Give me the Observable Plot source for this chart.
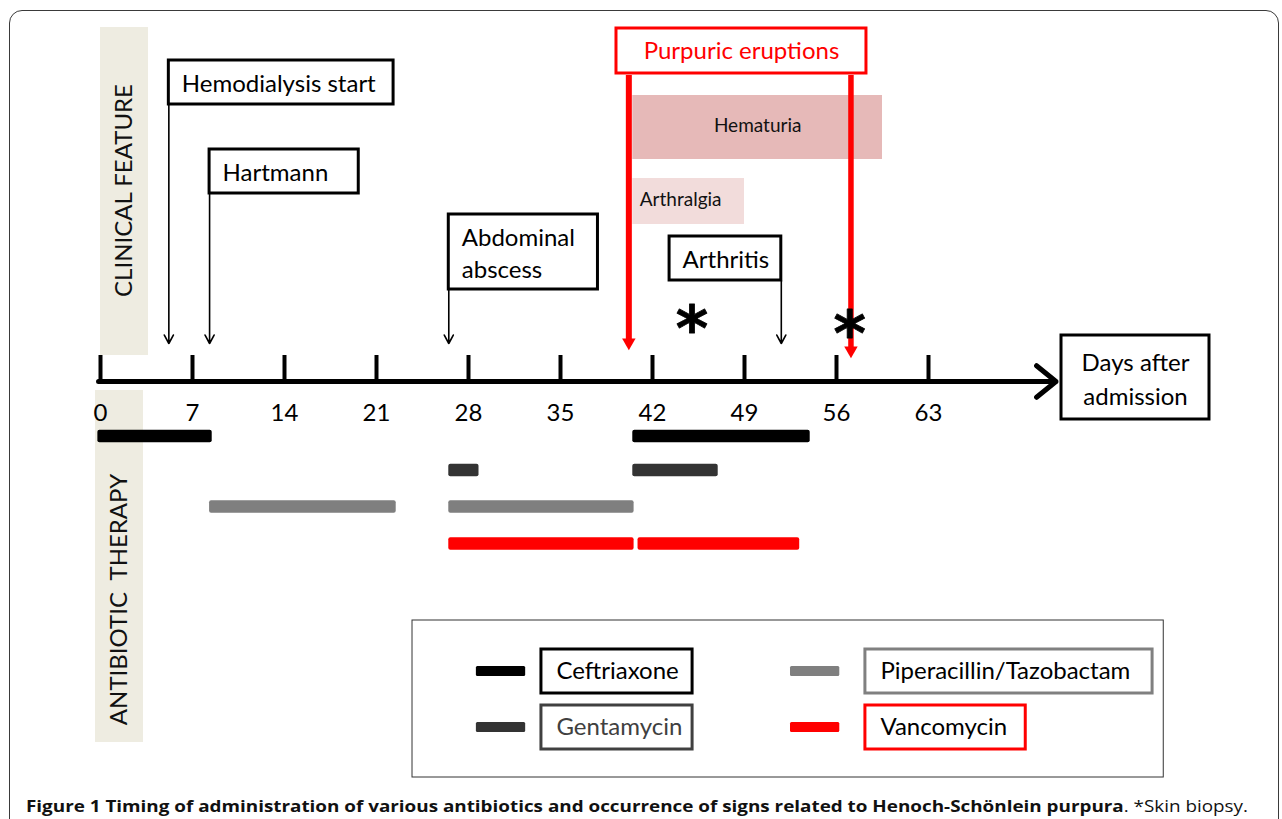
<!DOCTYPE html>
<html>
<head>
<meta charset="utf-8">
<script src="https://cdn.jsdelivr.net/npm/d3@7"></script>
<script src="https://cdn.jsdelivr.net/npm/@observablehq/plot@0.6"></script>
<style>
  html, body { margin: 0; padding: 0; background: #fff; overflow: hidden; }
  #wrap { position: relative; width: 1282px; height: 819px; }
  #frame { position: absolute; left: 9px; top: 10px; width: 1268px; height: 860px;
           border: 1.5px solid #3a3a3a; border-radius: 13px; pointer-events: none; }
  #chart { position: absolute; left: 0; top: 0; }
  #caption { position: absolute; left: 26px; top: 794px; white-space: nowrap;
             font-family: "Open Sans", sans-serif; font-size: 16.5px; color: #111;
             transform-origin: 0 50%; }
  #caption b { font-weight: 700; }
</style>
</head>
<body>
<div id="wrap">
  <div id="chart"></div>
  <div id="frame"></div>
  <div id="caption"><b>Figure 1 Timing of administration of various antibiotics and occurrence of signs related to Henoch-Schönlein purpura</b>. *Skin biopsy.</div>
</div>
<script>
// ---------------- DATA ----------------
const dayTicks = [0, 7, 14, 21, 28, 35, 42, 49, 56, 63];
const axisTitle = "Days after\nadmission";

const drugs = ["Ceftriaxone", "Gentamycin", "Piperacillin/Tazobactam", "Vancomycin"];
const drugColors = ["#000000", "#333333", "#7f7f7f", "#ff0000"];

const courseDrug  = ["Ceftriaxone", "Ceftriaxone", "Gentamycin", "Gentamycin",
                     "Piperacillin/Tazobactam", "Piperacillin/Tazobactam", "Vancomycin", "Vancomycin"];
const courseStart = [-0.2, 40.5, 26.5, 40.5, 8.3, 26.5, 26.5, 40.9];
const courseEnd   = [8.5, 54.0, 28.8, 47.0, 22.5, 40.6, 40.6, 53.2];

const eventLabels = ["Hemodialysis start", "Hartmann", "Abdominal\nabscess", "Arthritis"];
const eventDays   = [5.2, 8.3, 26.5, 51.8];

const purpuraLabel = "Purpuric eruptions";
const purpuraDays  = [40.2, 57.1];

const episodeLabels = ["Hematuria", "Arthralgia"];
const episodeStart  = [40.5, 40.5];
const episodeEnd    = [59.5, 49.0];

const biopsyDays = [45.0, 57.0];

const sideLabels = ["CLINICAL FEATURE", "ANTIBIOTIC  THERAPY"];

// ---------------- LAYOUT (y levels are in layout units, x in days) ----------------
const L = {
  axisY: 381, tickTop: 355, tickLabelY: 413, axisStart: -0.15, axisEnd: 72.7,
  arrowTipY: 343,
  band: [{x1: 0, x2: 3.65, y1: 27, y2: 355}, {x1: -0.38, x2: 3.27, y1: 390, y2: 742}],
  sideText: [{x: 1.83, y: 190}, {x: 1.45, y: 599}],
  events: [
    {top: 60, bottom: 104, width: 17.1, anchor: "left"},
    {top: 149, bottom: 193, width: 11.35, anchor: "left"},
    {top: 214, bottom: 289, width: 11.35, anchor: "left"},
    {top: 236, bottom: 280, width: 8.5, anchor: "right"}
  ],
  purpura: {x1: 39.26, x2: 58.28, top: 28, bottom: 73, lineTop: 75, tips: [347, 355]},
  episodes: [{top: 95, bottom: 159}, {top: 178, bottom: 224}],
  biopsyY: [318, 323],
  daysBox: {x1: 73.12, x2: 84.38, top: 335, bottom: 419},
  rows: {"Ceftriaxone": 436, "Gentamycin": 470, "Piperacillin/Tazobactam": 506.5, "Vancomycin": 543.5},
  barHalf: 6.3,
  legend: {x1: 23.74, x2: 80.9, y1: 620, y2: 777,
           items: [
             {sx1: 28.6, sx2: 32.35, y: 671, bx1: 33.55, bx2: 45.05},
             {sx1: 28.6, sx2: 32.35, y: 727, bx1: 33.55, bx2: 45.05},
             {sx1: 52.5, sx2: 56.25, y: 671, bx1: 58.2, bx2: 80.05},
             {sx1: 52.5, sx2: 56.25, y: 727, bx1: 58.2, bx2: 70.4}
           ]}
};

const k = 828 / 63; // pixels per day
const W = 1282, H = 790;
const font = "Lato, sans-serif";

// ---------------- DERIVED TABLES ----------------
const courses = courseDrug.map((d, i) => ({drug: d, start: courseStart[i], end: courseEnd[i],
  color: drugColors[drugs.indexOf(d)]}));
const events = eventLabels.map((t, i) => {
  const lay = L.events[i];
  const x1 = lay.anchor === "left" ? eventDays[i] : eventDays[i] - lay.width;
  return {label: t, day: eventDays[i], x1, x2: x1 + lay.width, top: lay.top, bottom: lay.bottom};
});
const episodes = episodeLabels.map((t, i) => ({label: t, start: episodeStart[i], end: episodeEnd[i],
  top: L.episodes[i].top, bottom: L.episodes[i].bottom}));
const purpura = purpuraDays.map((d, i) => ({day: d, tip: L.purpura.tips[i], w: i === 0 ? 6 : 5.5}));
const biopsies = biopsyDays.map((d, i) => ({day: d, y: L.biopsyY[i]}));
const legendItems = drugs.map((d, i) => ({drug: d, color: drugColors[i], ...L.legend.items[i],
  textColor: d === "Gentamycin" ? "#404040" : "#000",
  boxColor: d === "Gentamycin" ? "#404040" : (d === "Piperacillin/Tazobactam" ? "#808080" : drugColors[i])}));
const sides = sideLabels.map((t, i) => ({label: t, ...L.sideText[i]}));

const chart = Plot.plot({
  width: W, height: H,
  margin: 0,
  style: {background: "transparent", fontFamily: font},
  x: {type: "linear", domain: [-100 / k, (W - 100) / k], range: [0, W], axis: null},
  y: {type: "linear", domain: [0, H], range: [0, H], axis: null},
  marks: [
    // side bands
    Plot.rect(L.band, {x1: "x1", x2: "x2", y1: "y1", y2: "y2", fill: "#EEECE1"}),
    Plot.text(sides, {x: "x", y: "y", text: "label", rotate: -90, fontSize: 24, fill: "#111", fontFamily: font}),

    // episodes (hematuria, arthralgia)
    Plot.rect(episodes, {x1: "start", x2: "end", y1: "top", y2: "bottom",
      fill: (d, i) => i === 0 ? "#E6B9B8" : "#F2DCDB"}),
    Plot.text(episodes.slice(0, 1), {x: d => (d.start + d.end) / 2, y: d => (d.top + d.bottom) / 2 - 2,
      text: "label", fontSize: 19, fill: "#111", fontFamily: font}),
    Plot.text(episodes.slice(1), {x: "start", y: d => (d.top + d.bottom) / 2 - 2, dx: 7, textAnchor: "start",
      text: "label", fontSize: 19, fill: "#111", fontFamily: font}),

    // purpuric eruptions
    Plot.ruleX(purpura, {x: "day", y1: L.purpura.lineTop, y2: d => d.tip - 6, stroke: "#ff0000", strokeWidth: "w"}),
    Plot.dot(purpura, {x: "day", y: d => d.tip - 5, symbol: "triangle", r: 5, rotate: 180, fill: "#ff0000", stroke: "none"}),
    Plot.rect([L.purpura], {x1: "x1", x2: "x2", y1: "top", y2: "bottom", fill: "white", stroke: "#ff0000", strokeWidth: 3}),
    Plot.text([L.purpura], {x: d => (d.x1 + d.x2) / 2, y: d => (d.top + d.bottom) / 2, text: () => purpuraLabel,
      fontSize: 24, fill: "#ff0000", fontFamily: font}),

    // event boxes with arrows
    Plot.arrow(events, {x: "day", y1: "bottom", y2: L.arrowTipY, stroke: "black", strokeWidth: 1.6,
      headLength: 9, headAngle: 56}),
    Plot.rect(events, {x1: "x1", x2: "x2", y1: "top", y2: "bottom", fill: "white", stroke: "black", strokeWidth: 3}),
    Plot.text(events, {x: "x1", y: d => (d.top + d.bottom) / 2, dx: 13, textAnchor: "start", text: "label",
      fontSize: 24, lineHeight: 1.3, fill: "#000", fontFamily: font}),

    // biopsy asterisks
    Plot.text(biopsies, {x: "day", y: "y", dy: 12, text: () => "*", fontSize: 62, fontWeight: "bold",
      fill: "#000", stroke: "#000", strokeWidth: 0.8, fontFamily: "DejaVu Sans"}),

    // time axis
    Plot.arrow([{x1: L.axisStart, x2: L.axisEnd}], {x1: "x1", x2: "x2", y: L.axisY, stroke: "black",
      strokeWidth: 5, headLength: 7.5, headAngle: 78}),
    Plot.ruleX(dayTicks, {x: d => d, y1: L.tickTop, y2: L.axisY, stroke: "black", strokeWidth: 4}),
    Plot.text(dayTicks, {x: d => d, y: L.tickLabelY, text: d => String(d), fontSize: 24, fill: "#000", fontFamily: font}),
    Plot.rect([L.daysBox], {x1: "x1", x2: "x2", y1: "top", y2: "bottom", fill: "white", stroke: "black", strokeWidth: 3}),
    Plot.text([L.daysBox], {x: d => (d.x1 + d.x2) / 2, y: d => (d.top + d.bottom) / 2, text: () => axisTitle,
      fontSize: 24, lineHeight: 1.4, fill: "#000", fontFamily: font}),

    // antibiotic courses
    Plot.rect(courses, {x1: "start", x2: "end", y1: d => L.rows[d.drug] - L.barHalf, y2: d => L.rows[d.drug] + L.barHalf,
      fill: "color", rx: 2}),

    // legend
    Plot.rect([L.legend], {x1: "x1", x2: "x2", y1: "y1", y2: "y2", fill: "white", stroke: "#333", strokeWidth: 1}),
    Plot.rect(legendItems, {x1: "sx1", x2: "sx2", y1: d => d.y - 5, y2: d => d.y + 5, fill: "color", rx: 1.5}),
    Plot.rect(legendItems, {x1: "bx1", x2: "bx2", y1: d => d.y - 22, y2: d => d.y + 22, fill: "white",
      stroke: "boxColor", strokeWidth: 3}),
    Plot.text(legendItems, {x: "bx1", y: "y", dx: 15, textAnchor: "start", text: "drug", fill: "textColor",
      fontSize: 24, fontFamily: font})
  ]
});
document.getElementById("chart").appendChild(chart);

// fit caption to the reference width
const cap = document.getElementById("caption");
const natural = cap.getBoundingClientRect().width;
cap.style.transform = `scaleX(${1222 / natural})`;
</script>
</body>
</html>
